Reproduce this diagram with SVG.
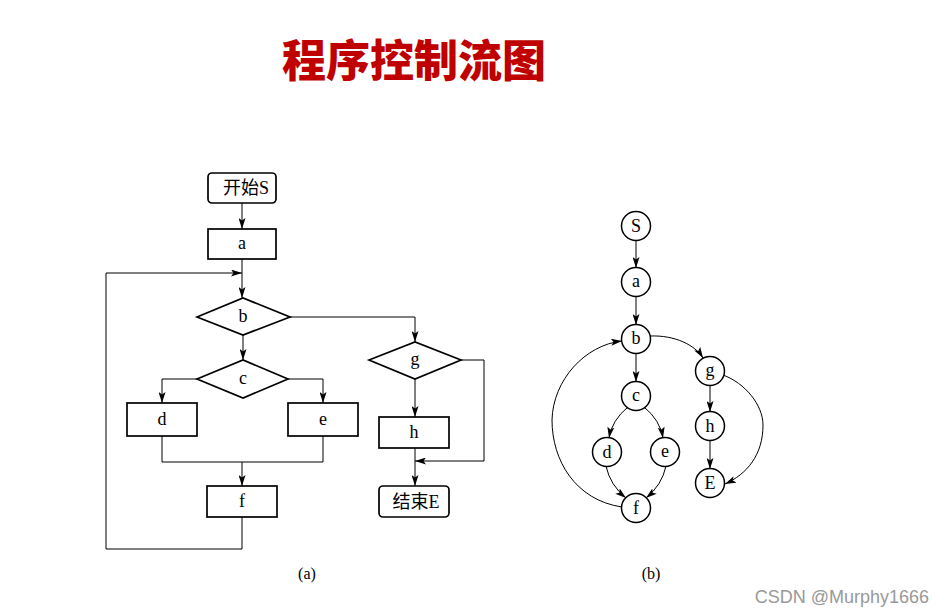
<svg xmlns="http://www.w3.org/2000/svg" width="945" height="616" viewBox="0 0 945 616">
<style>
.box{fill:#fff;stroke:#000;stroke-width:1.7}
.ln{fill:none;stroke:#000;stroke-width:1}
.t{font-family:"Liberation Serif","Noto Sans CJK SC",serif;font-size:18px;fill:#000;text-anchor:middle}
.cap{font-family:"Liberation Serif",serif;font-size:16px;fill:#000;text-anchor:middle}
.nd{fill:#fff;stroke:#000;stroke-width:1.5}
</style>
<defs>
<marker id="ar" viewBox="0 0 11 7" refX="11" refY="3.5" markerWidth="11" markerHeight="7" markerUnits="userSpaceOnUse" orient="auto">
<path d="M0,0 L11,3.5 L0,7 L2.5,3.5 z" fill="#000"/>
</marker>
</defs>
<rect width="945" height="616" fill="#fff"/>
<text x="414" y="77" font-family="Noto Sans CJK SC, sans-serif" font-weight="900" font-size="44" fill="#c00000" text-anchor="middle">程序控制流图</text>

<g id="connectors">
<path class="ln" d="M242,203 V229" marker-end="url(#ar)"/>
<path class="ln" d="M242,259 V298" marker-end="url(#ar)"/>
<path class="ln" d="M242,517 V549 H106 V273 H242" marker-end="url(#ar)"/>
<path class="ln" d="M243,335 V360" marker-end="url(#ar)"/>
<path class="ln" d="M197,379 H162 V403" marker-end="url(#ar)"/>
<path class="ln" d="M288,379 H323 V403" marker-end="url(#ar)"/>
<path class="ln" d="M162,436 V462 H323 V436"/>
<path class="ln" d="M242,462 V486" marker-end="url(#ar)"/>
<path class="ln" d="M290,317 H415 V342" marker-end="url(#ar)"/>
<path class="ln" d="M415,379 V417" marker-end="url(#ar)"/>
<path class="ln" d="M415,448 V486" marker-end="url(#ar)"/>
<path class="ln" d="M461,360 H484 V461 H415" marker-end="url(#ar)"/>

<path class="ln" d="M636,240 V268" marker-end="url(#ar)"/>
<path class="ln" d="M636,296 V325" marker-end="url(#ar)"/>
<path class="ln" d="M636,353 V382" marker-end="url(#ar)"/>
<path class="ln" d="M650,336 C675,335 695,345 703,358" marker-end="url(#ar)"/>
<path class="ln" d="M628,407 Q612,420 609,438" marker-end="url(#ar)"/>
<path class="ln" d="M644,407 Q660,420 663,438" marker-end="url(#ar)"/>
<path class="ln" d="M606,466 Q610,485 626,498" marker-end="url(#ar)"/>
<path class="ln" d="M666,466 Q662,485 646,498" marker-end="url(#ar)"/>
<path class="ln" d="M622,507 C575,500 552,460 552,420 C553,380 585,345 622,341" marker-end="url(#ar)"/>
<path class="ln" d="M710,385 V412" marker-end="url(#ar)"/>
<path class="ln" d="M710,440 V469" marker-end="url(#ar)"/>
<path class="ln" d="M723,375 C745,383 763,405 763,425 C763,455 747,474 725,484" marker-end="url(#ar)"/>
</g>

<g id="nodeS"><rect class="box" x="208" y="173" width="68" height="30" rx="4"/><text class="t" x="246" y="194">开始S</text></g>
<g id="nodeA"><rect class="box" x="208" y="229" width="68" height="30"/><text class="t" x="242" y="249">a</text></g>
<g id="nodeB"><polygon class="box" points="197,317 243,298 290,317 243,335"/><text class="t" x="243" y="322">b</text></g>
<g id="nodeC"><polygon class="box" points="197,379 243,360 288,379 243,398"/><text class="t" x="243" y="384">c</text></g>
<g id="nodeD"><rect class="box" x="127" y="403" width="70" height="33"/><text class="t" x="162" y="425">d</text></g>
<g id="nodeE"><rect class="box" x="288" y="403" width="70" height="33"/><text class="t" x="323" y="425">e</text></g>
<g id="nodeF"><rect class="box" x="207" y="486" width="70" height="31"/><text class="t" x="242" y="507">f</text></g>
<g id="nodeG"><polygon class="box" points="369,360 415,342 461,360 415,379"/><text class="t" x="415" y="365">g</text></g>
<g id="nodeH"><rect class="box" x="379" y="417" width="70" height="31"/><text class="t" x="414" y="438">h</text></g>
<g id="nodeEnd"><rect class="box" x="379" y="486" width="70" height="31" rx="4"/><text class="t" x="416" y="508">结束E</text></g>
<text class="cap" x="307" y="579">(a)</text>

<g id="gS"><circle class="nd" cx="636" cy="226" r="14.5"/><text class="t" x="636" y="232">S</text></g>
<g id="ga"><circle class="nd" cx="636" cy="282" r="14.5"/><text class="t" x="636" y="287">a</text></g>
<g id="gb"><circle class="nd" cx="636" cy="339" r="14.5"/><text class="t" x="636" y="344">b</text></g>
<g id="gc"><circle class="nd" cx="636" cy="396" r="14.5"/><text class="t" x="636" y="401">c</text></g>
<g id="gd"><circle class="nd" cx="607" cy="452" r="14.5"/><text class="t" x="607" y="458">d</text></g>
<g id="ge"><circle class="nd" cx="665" cy="452" r="14.5"/><text class="t" x="665" y="457">e</text></g>
<g id="gf"><circle class="nd" cx="636" cy="508" r="14.5"/><text class="t" x="636" y="514">f</text></g>
<g id="gg"><circle class="nd" cx="710" cy="371" r="14.5"/><text class="t" x="710" y="376">g</text></g>
<g id="gh"><circle class="nd" cx="710" cy="426" r="14.5"/><text class="t" x="710" y="432">h</text></g>
<g id="gE"><circle class="nd" cx="710" cy="483" r="14.5"/><text class="t" x="710" y="489">E</text></g>
<text class="cap" x="651" y="579">(b)</text>

<text x="929" y="603" font-family="Liberation Sans, sans-serif" font-size="18" fill="#999999" text-anchor="end">CSDN @Murphy1666</text>
</svg>
